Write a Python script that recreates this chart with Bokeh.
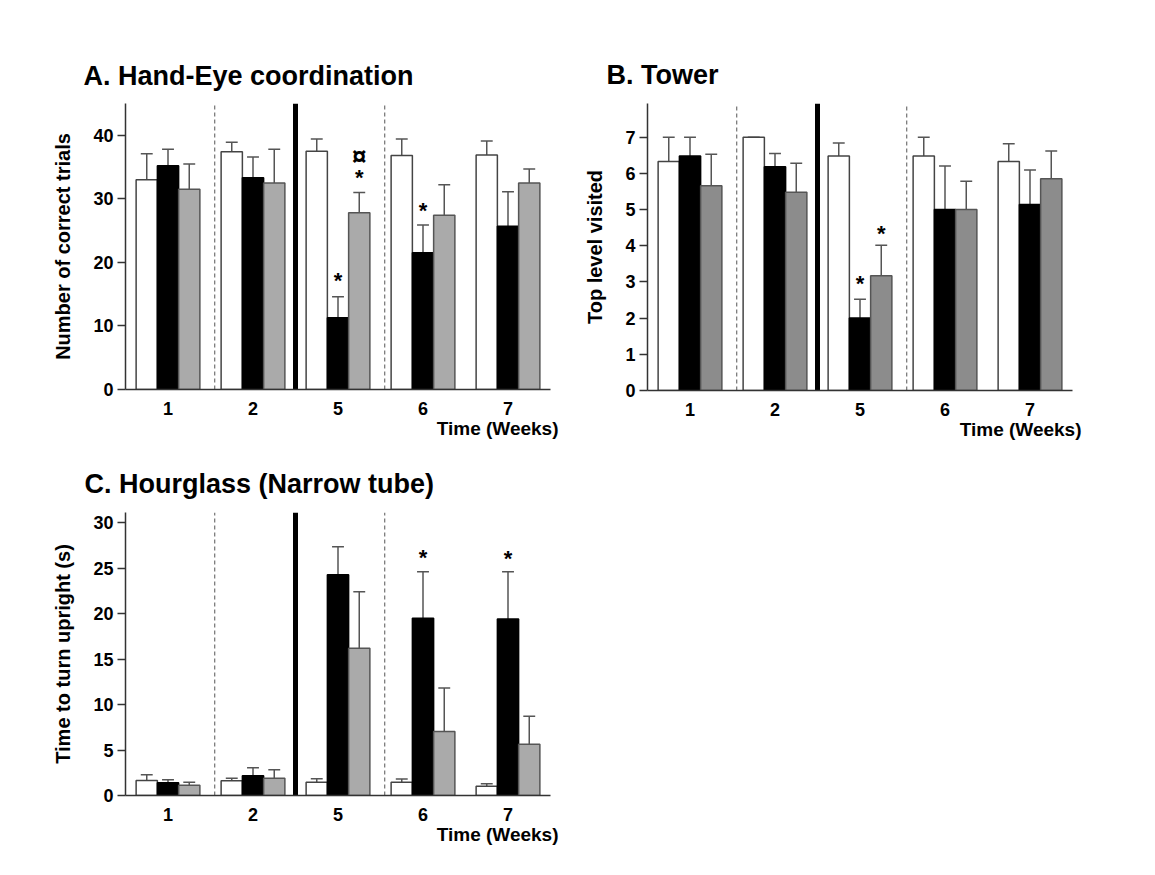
from bokeh.plotting import figure
from bokeh.models import Title, FixedTicker, Range1d, ColumnDataSource
from bokeh.layouts import column, row
from bokeh.embed import file_html
from bokeh.resources import INLINE
from bokeh.core.properties import value

# ---------------- data ----------------
weeks = ["1", "2", "5", "6", "7"]

# A. Hand-Eye coordination (number of correct trials)
hand_white = [33.0, 37.4, 37.5, 36.8, 36.9]
hand_white_err = [4.1, 1.5, 1.9, 2.6, 2.2]
hand_black = [35.2, 33.3, 11.3, 21.5, 25.7]
hand_black_err = [2.6, 3.3, 3.3, 4.4, 5.4]
hand_grey = [31.5, 32.5, 27.8, 27.4, 32.5]
hand_grey_err = [4.0, 5.3, 3.2, 4.8, 2.2]
hand_marks_x = [2, 2, 2, 3]
hand_marks_series = [1, 2, 2, 1]
hand_marks_y = [17.2, 33.3, 36.7, 28.2]
hand_marks_text = ["*", "*", "\u00a4", "*"]

# B. Tower (top level visited)
tower_white = [6.33, 7.0, 6.48, 6.48, 6.33]
tower_white_err = [0.67, 0.0, 0.36, 0.52, 0.49]
tower_black = [6.48, 6.18, 2.0, 5.0, 5.14]
tower_black_err = [0.52, 0.37, 0.52, 1.2, 0.95]
tower_grey = [5.66, 5.48, 3.17, 5.0, 5.85]
tower_grey_err = [0.87, 0.8, 0.84, 0.78, 0.77]
tower_marks_x = [2, 2]
tower_marks_series = [1, 2]
tower_marks_y = [2.95, 4.35]
tower_marks_text = ["*", "*"]

# C. Hourglass (time to turn upright, s)
hour_white = [1.65, 1.61, 1.46, 1.46, 1.02]
hour_white_err = [0.62, 0.29, 0.37, 0.34, 0.26]
hour_black = [1.39, 2.16, 24.26, 19.47, 19.4]
hour_black_err = [0.33, 0.88, 3.07, 5.13, 5.2]
hour_grey = [1.13, 1.9, 16.17, 7.03, 5.63]
hour_grey_err = [0.33, 0.92, 6.23, 4.77, 3.07]
hour_marks_x = [3, 4]
hour_marks_series = [1, 1]
hour_marks_y = [26.2, 26.0]
hour_marks_text = ["*", "*"]

FONT = "Liberation Sans"
OFFSETS = [-0.25, 0.0, 0.25]
BAR_W = 0.25
CAP_HALF = 0.07


def make_panel(title, ylabel, ymax, yticks, series, grey_color, marks,
               bl, br, bt, bb, fh, title_offset, title_standoff, xlab_offset):
    p = figure(frame_width=425, frame_height=fh,
               x_range=Range1d(-0.5, 4.5), y_range=Range1d(0, ymax),
               output_backend="svg", toolbar_location=None,
               min_border_left=bl, min_border_right=br,
               min_border_top=bt, min_border_bottom=bb,
               background_fill_color="white", border_fill_color="white")
    p.outline_line_color = None
    p.xgrid.visible = False
    p.ygrid.visible = False

    p.add_layout(Title(text=title, align="left", offset=title_offset, standoff=title_standoff,
                       text_font=FONT, text_font_size="27px", text_font_style="bold",
                       text_color="black"), "above")
    p.add_layout(Title(text="Time (Weeks)", align="right", offset=xlab_offset, standoff=-3,
                       text_font=FONT, text_font_size="19px", text_font_style="bold",
                       text_color="black"), "below")

    fills = ["white", "black", grey_color]
    lines = ["#444444", "black", "#555555"]
    for k, (vals, errs) in enumerate(series):
        xs = [i + OFFSETS[k] for i in range(len(weeks))]
        tops = [v + e for v, e in zip(vals, errs)]
        src = ColumnDataSource(dict(x=xs, top=vals, etop=tops,
                                    xl=[x - CAP_HALF for x in xs],
                                    xr=[x + CAP_HALF for x in xs]))
        p.segment(x0="x", y0="top", x1="x", y1="etop", source=src,
                  line_color="#555555", line_width=1.5)
        p.segment(x0="xl", y0="etop", x1="xr", y1="etop", source=src,
                  line_color="#555555", line_width=1.5)
        p.vbar(x="x", top="top", bottom=0, width=BAR_W, source=src,
               fill_color=fills[k], line_color=lines[k], line_width=1.5)

    # group separators
    p.segment(x0=[0.55, 2.55], y0=[0, 0], x1=[0.55, 2.55], y1=[ymax, ymax],
              line_color="#555555", line_width=1, line_dash="4 3")
    p.segment(x0=[1.5], y0=[0], x1=[1.5], y1=[ymax],
              line_color="black", line_width=5)

    mx, ms, my, mt = marks
    msrc = ColumnDataSource(dict(
        x=[g + OFFSETS[s] for g, s in zip(mx, ms)], y=my, text=mt,
        size=["26px" if t == "\u00a4" else "22px" for t in mt]))
    p.text(x="x", y="y", text="text", source=msrc,
           text_font=value(FONT), text_font_size="size", text_font_style="bold",
           text_align="center", text_baseline="middle", text_color="black")

    xa = p.xaxis[0]
    xa.ticker = FixedTicker(ticks=list(range(len(weeks))))
    xa.major_label_overrides = {i: w for i, w in enumerate(weeks)}
    xa.major_tick_out = 0
    xa.major_tick_in = 0
    xa.minor_tick_out = 0
    xa.minor_tick_in = 0
    xa.major_label_standoff = 12
    xa.major_label_text_font = FONT
    xa.major_label_text_font_size = "18px"
    xa.major_label_text_font_style = "bold"
    xa.major_label_text_color = "black"
    xa.axis_line_color = "#333333"
    xa.axis_line_width = 1.5

    ya = p.yaxis[0]
    ya.ticker = FixedTicker(ticks=yticks)
    ya.major_tick_out = 8
    ya.major_tick_in = 0
    ya.minor_tick_out = 0
    ya.minor_tick_in = 0
    ya.major_tick_line_color = "#333333"
    ya.major_tick_line_width = 1.5
    ya.major_label_standoff = 4
    ya.major_label_text_font = FONT
    ya.major_label_text_font_size = "18px"
    ya.major_label_text_font_style = "bold"
    ya.major_label_text_color = "black"
    ya.axis_line_color = "#333333"
    ya.axis_line_width = 1.5
    ya.axis_label = ylabel
    ya.axis_label_text_font = FONT
    ya.axis_label_text_font_size = "20px"
    ya.axis_label_text_font_style = "bold"
    ya.axis_label_text_color = "black"
    ya.axis_label_standoff = 16
    return p


pA = make_panel("A. Hand-Eye coordination", "Number of correct trials", 45,
                [0, 10, 20, 30, 40],
                [(hand_white, hand_white_err), (hand_black, hand_black_err),
                 (hand_grey, hand_grey_err)], "#aaaaaa",
                (hand_marks_x, hand_marks_series, hand_marks_y, hand_marks_text),
                bl=125, br=10, bt=102, bb=57, fh=286, title_offset=-42,
                title_standoff=26, xlab_offset=-8)

pB = make_panel("B. Tower", "Top level visited", 7.93,
                [0, 1, 2, 3, 4, 5, 6, 7],
                [(tower_white, tower_white_err), (tower_black, tower_black_err),
                 (tower_grey, tower_grey_err)], "#8c8c8c",
                (tower_marks_x, tower_marks_series, tower_marks_y, tower_marks_text),
                bl=87, br=83, bt=103, bb=55, fh=287, title_offset=-41,
                title_standoff=27, xlab_offset=-9)

pC = make_panel("C. Hourglass (Narrow tube)", "Time to turn upright (s)", 31.1,
                [0, 5, 10, 15, 20, 25, 30],
                [(hour_white, hour_white_err), (hour_black, hour_black_err),
                 (hour_grey, hour_grey_err)], "#aaaaaa",
                (hour_marks_x, hour_marks_series, hour_marks_y, hour_marks_text),
                bl=125, br=10, bt=67, bb=75, fh=283, title_offset=-41,
                title_standoff=28, xlab_offset=-8)

layout = column(row(pA, pB), pC)
open("out.html", "w").write(file_html(layout, INLINE))
